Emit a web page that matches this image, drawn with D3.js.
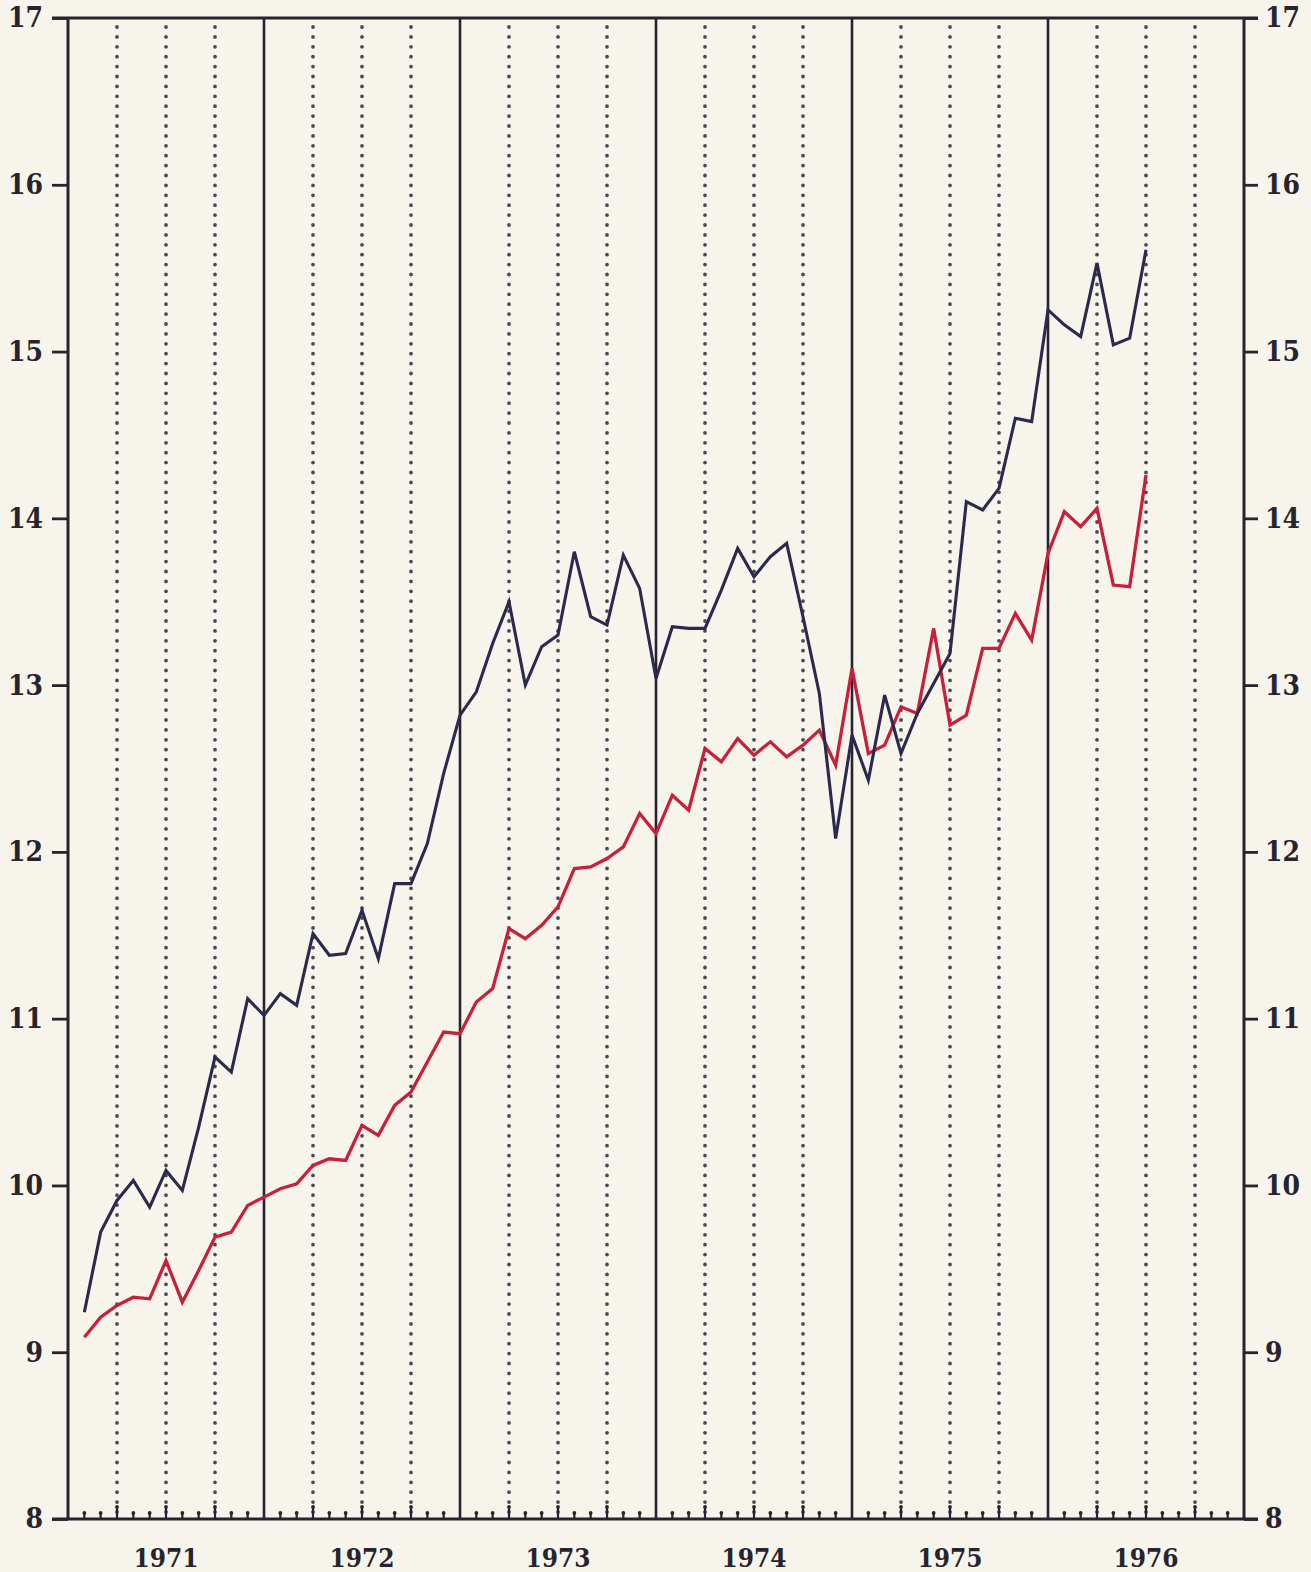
<!DOCTYPE html>
<html>
<head>
<meta charset="utf-8">
<script src="https://cdn.jsdelivr.net/npm/d3@7"></script>
<style>
  html, body { margin: 0; padding: 0; background: #f7f5eb; }
  svg { display: block; }
  text { font-family: "DejaVu Serif Condensed", "DejaVu Serif", serif; font-stretch: condensed; font-weight: bold; fill: #27232f; }
</style>
</head>
<body>
<svg id="chart" width="1311" height="1572"></svg>
<script>
// ---- data ----
const years = ["1971", "1972", "1973", "1974", "1975", "1976"];
// monthly observations, plotted at the end of each month (Jan 1971 .. Jun 1976)
const monthLabels = d3.range(66).map(i => `${1971 + Math.floor(i / 12)}-${String(i % 12 + 1).padStart(2, "0")}`);
const seriesBlue = [
  9.24, 9.72, 9.91, 10.03, 9.87, 10.09, 9.97, 10.35, 10.77, 10.68, 11.12, 11.02,
  11.15, 11.08, 11.51, 11.38, 11.39, 11.65, 11.36, 11.81, 11.81, 12.05, 12.47, 12.82,
  12.96, 13.25, 13.50, 13.00, 13.23, 13.30, 13.80, 13.41, 13.36, 13.78, 13.58, 13.04,
  13.35, 13.34, 13.34, 13.57, 13.82, 13.65, 13.77, 13.85, 13.41, 12.95, 12.08, 12.70,
  12.43, 12.94, 12.59, 12.83, 13.01, 13.19, 14.10, 14.05, 14.18, 14.60, 14.58, 15.25,
  15.16, 15.09, 15.53, 15.04, 15.08, 15.61
];
const seriesRed = [
  9.09, 9.21, 9.28, 9.33, 9.32, 9.55, 9.30, 9.49, 9.69, 9.72, 9.88, 9.93,
  9.98, 10.01, 10.12, 10.16, 10.15, 10.36, 10.30, 10.48, 10.56, 10.74, 10.92, 10.91,
  11.10, 11.18, 11.54, 11.48, 11.56, 11.67, 11.90, 11.91, 11.96, 12.03, 12.23, 12.11,
  12.34, 12.25, 12.62, 12.54, 12.68, 12.58, 12.66, 12.57, 12.64, 12.73, 12.52, 13.10,
  12.59, 12.64, 12.87, 12.83, 13.34, 12.76, 12.82, 13.22, 13.22, 13.43, 13.27, 13.79,
  14.04, 13.95, 14.06, 13.60, 13.59, 14.26
];
const yTicks = [8, 9, 10, 11, 12, 13, 14, 15, 16, 17];

// ---- layout ----
const svg = d3.select("#chart");
const pLeft = 68, pRight = 1244, pTop = 18, pBottom = 1519;
const ink = "#27232f";
const fontFam = "'DejaVu Serif Condensed', 'DejaVu Serif', serif";

const x = d3.scaleLinear().domain([0, years.length * 12]).range([pLeft, pRight]);
const y = d3.scaleLinear().domain([8, 17]).range([pBottom, pTop]);

// quarter dotted lines
const quarters = d3.range(0, years.length * 12 + 1, 3).filter(m => m % 12 !== 0);
svg.append("g").selectAll("line").data(quarters).join("line")
  .attr("x1", d => x(d)).attr("x2", d => x(d))
  .attr("y1", pTop + 9).attr("y2", pBottom - 6)
  .attr("stroke", "#4a4856").attr("stroke-width", 3.8)
  .attr("stroke-linecap", "round").attr("stroke-dasharray", "0 9.9");

// year solid lines
const yearBounds = d3.range(1, years.length);
svg.append("g").selectAll("line").data(yearBounds).join("line")
  .attr("x1", d => x(d * 12)).attr("x2", d => x(d * 12))
  .attr("y1", pTop).attr("y2", pBottom)
  .attr("stroke", ink).attr("stroke-width", 2.6);

// month ticks on bottom axis
const months = d3.range(1, years.length * 12).filter(m => m % 12 !== 0);
const mt = svg.append("g").selectAll("g").data(months).join("g");
mt.append("line")
  .attr("x1", d => x(d)).attr("x2", d => x(d))
  .attr("y1", pBottom).attr("y2", d => pBottom - (d % 3 === 0 ? 12 : 6))
  .attr("stroke", ink).attr("stroke-width", 2.2);
mt.append("circle")
  .attr("cx", d => x(d)).attr("cy", d => pBottom - (d % 3 === 0 ? 12 : 6))
  .attr("r", 1.9).attr("fill", ink);

// left axis
const yAxisL = d3.axisLeft(y).tickValues(yTicks).tickSize(16).tickPadding(9).tickFormat(d3.format("d"));
const gl = svg.append("g").attr("transform", `translate(${pLeft},0)`).call(yAxisL);
gl.select(".domain").remove();
gl.selectAll(".tick line").attr("stroke", ink).attr("stroke-width", 2.8);
gl.selectAll(".tick text").attr("font-size", 28).attr("fill", ink)
  .style("font-family", fontFam).style("font-weight", "bold").style("font-stretch", "condensed");

// right axis
const yAxisR = d3.axisRight(y).tickValues(yTicks).tickSize(14).tickPadding(7).tickFormat(d3.format("d"));
const gr = svg.append("g").attr("transform", `translate(${pRight},0)`).call(yAxisR);
gr.select(".domain").remove();
gr.selectAll(".tick line").attr("stroke", ink).attr("stroke-width", 2.8);
gr.selectAll(".tick text").attr("font-size", 28).attr("fill", ink)
  .style("font-family", fontFam).style("font-weight", "bold").style("font-stretch", "condensed");

// frame
const frame = svg.append("g").attr("stroke", ink).attr("stroke-width", 3);
frame.append("line").attr("x1", pLeft - 16).attr("x2", pRight + 14).attr("y1", pTop).attr("y2", pTop);
frame.append("line").attr("x1", pLeft - 16).attr("x2", pRight + 14).attr("y1", pBottom).attr("y2", pBottom);
frame.append("line").attr("x1", pLeft).attr("x2", pLeft).attr("y1", pTop).attr("y2", pBottom);
frame.append("line").attr("x1", pRight).attr("x2", pRight).attr("y1", pTop).attr("y2", pBottom);

// year labels
svg.append("g").selectAll("text").data(years).join("text")
  .attr("x", (d, i) => x(i * 12 + 6)).attr("y", 1567)
  .attr("text-anchor", "middle").attr("font-size", 26)
  .text(d => d);

// lines
const line = d3.line().x((d, i) => x(i + 1)).y(d => y(d));
svg.append("path").datum(seriesRed).attr("d", line)
  .attr("fill", "none").attr("stroke", "#c81f3b").attr("stroke-width", 3.3)
  .attr("stroke-linejoin", "miter");
svg.append("path").datum(seriesBlue).attr("d", line)
  .attr("fill", "none").attr("stroke", "#2b2a4e").attr("stroke-width", 3.1)
  .attr("stroke-linejoin", "miter");
</script>
</body>
</html>
